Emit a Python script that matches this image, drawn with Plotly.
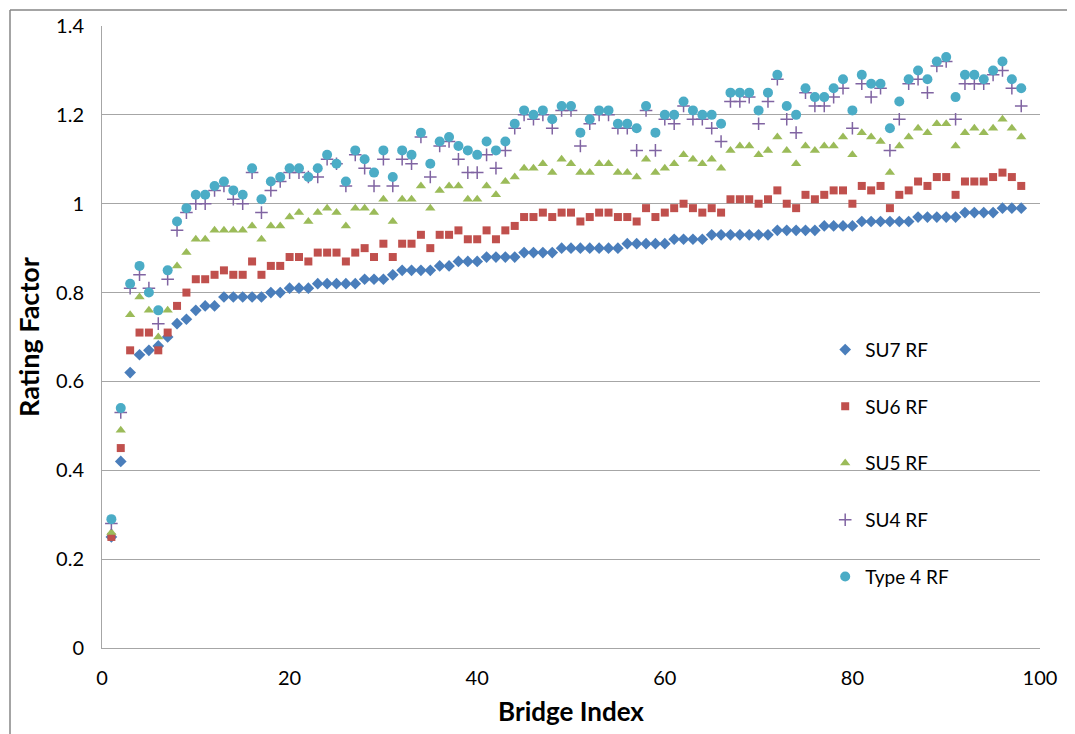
import plotly.graph_objects as go

bridge_index = list(range(1, 99))

su7 = [0.25, 0.42, 0.62, 0.66, 0.67, 0.68, 0.70, 0.73, 0.74, 0.76,
       0.77, 0.77, 0.79, 0.79, 0.79, 0.79, 0.79, 0.80, 0.80, 0.81,
       0.81, 0.81, 0.82, 0.82, 0.82, 0.82, 0.82, 0.83, 0.83, 0.83,
       0.84, 0.85, 0.85, 0.85, 0.85, 0.86, 0.86, 0.87, 0.87, 0.87,
       0.88, 0.88, 0.88, 0.88, 0.89, 0.89, 0.89, 0.89, 0.90, 0.90,
       0.90, 0.90, 0.90, 0.90, 0.90, 0.91, 0.91, 0.91, 0.91, 0.91,
       0.92, 0.92, 0.92, 0.92, 0.93, 0.93, 0.93, 0.93, 0.93, 0.93,
       0.93, 0.94, 0.94, 0.94, 0.94, 0.94, 0.95, 0.95, 0.95, 0.95,
       0.96, 0.96, 0.96, 0.96, 0.96, 0.96, 0.97, 0.97, 0.97, 0.97,
       0.97, 0.98, 0.98, 0.98, 0.98, 0.99, 0.99, 0.99]

su6 = [0.25, 0.45, 0.67, 0.71, 0.71, 0.67, 0.71, 0.77, 0.80, 0.83,
       0.83, 0.84, 0.85, 0.84, 0.84, 0.87, 0.84, 0.86, 0.86, 0.88,
       0.88, 0.87, 0.89, 0.89, 0.89, 0.87, 0.89, 0.90, 0.88, 0.91,
       0.88, 0.91, 0.91, 0.93, 0.90, 0.93, 0.93, 0.94, 0.92, 0.92,
       0.94, 0.92, 0.94, 0.95, 0.97, 0.97, 0.98, 0.97, 0.98, 0.98,
       0.96, 0.97, 0.98, 0.98, 0.97, 0.97, 0.96, 0.99, 0.97, 0.98,
       0.99, 1.00, 0.99, 0.98, 0.99, 0.98, 1.01, 1.01, 1.01, 1.00,
       1.01, 1.03, 1.00, 0.99, 1.02, 1.01, 1.02, 1.03, 1.03, 1.00,
       1.04, 1.03, 1.04, 0.99, 1.02, 1.03, 1.05, 1.04, 1.06, 1.06,
       1.02, 1.05, 1.05, 1.05, 1.06, 1.07, 1.06, 1.04]

su5 = [0.26, 0.49, 0.75, 0.79, 0.76, 0.70, 0.76, 0.86, 0.89, 0.92,
       0.92, 0.94, 0.94, 0.94, 0.94, 0.95, 0.92, 0.95, 0.95, 0.97,
       0.98, 0.96, 0.98, 0.99, 0.98, 0.95, 0.99, 0.99, 0.98, 1.01,
       0.96, 1.01, 1.01, 1.04, 0.99, 1.03, 1.04, 1.04, 1.01, 1.01,
       1.04, 1.02, 1.05, 1.06, 1.08, 1.08, 1.09, 1.07, 1.10, 1.09,
       1.07, 1.07, 1.09, 1.09, 1.07, 1.07, 1.06, 1.10, 1.07, 1.08,
       1.09, 1.11, 1.10, 1.09, 1.10, 1.08, 1.12, 1.13, 1.13, 1.11,
       1.12, 1.15, 1.12, 1.09, 1.13, 1.12, 1.13, 1.13, 1.15, 1.11,
       1.16, 1.15, 1.14, 1.07, 1.13, 1.15, 1.17, 1.16, 1.18, 1.18,
       1.13, 1.16, 1.17, 1.16, 1.17, 1.19, 1.17, 1.15]

su4 = [0.28, 0.53, 0.81, 0.84, 0.81, 0.73, 0.83, 0.94, 0.98, 1.00,
       1.00, 1.03, 1.04, 1.01, 1.00, 1.07, 0.98, 1.03, 1.05, 1.07,
       1.07, 1.06, 1.06, 1.10, 1.09, 1.04, 1.11, 1.08, 1.04, 1.10,
       1.04, 1.10, 1.09, 1.15, 1.06, 1.13, 1.14, 1.10, 1.07, 1.07,
       1.11, 1.08, 1.12, 1.17, 1.20, 1.19, 1.20, 1.17, 1.21, 1.21,
       1.13, 1.18, 1.20, 1.20, 1.17, 1.17, 1.12, 1.21, 1.12, 1.19,
       1.18, 1.22, 1.19, 1.19, 1.17, 1.14, 1.23, 1.23, 1.24, 1.18,
       1.23, 1.28, 1.19, 1.16, 1.25, 1.22, 1.22, 1.24, 1.26, 1.17,
       1.27, 1.24, 1.26, 1.12, 1.19, 1.27, 1.28, 1.25, 1.31, 1.32,
       1.19, 1.27, 1.27, 1.27, 1.29, 1.30, 1.26, 1.22]

type4 = [0.29, 0.54, 0.82, 0.86, 0.80, 0.76, 0.85, 0.96, 0.99, 1.02,
         1.02, 1.04, 1.05, 1.03, 1.02, 1.08, 1.01, 1.05, 1.06, 1.08,
         1.08, 1.06, 1.08, 1.11, 1.09, 1.05, 1.12, 1.10, 1.07, 1.12,
         1.06, 1.12, 1.11, 1.16, 1.09, 1.14, 1.15, 1.13, 1.12, 1.11,
         1.14, 1.12, 1.14, 1.18, 1.21, 1.20, 1.21, 1.19, 1.22, 1.22,
         1.16, 1.19, 1.21, 1.21, 1.18, 1.18, 1.17, 1.22, 1.16, 1.20,
         1.20, 1.23, 1.21, 1.20, 1.20, 1.18, 1.25, 1.25, 1.25, 1.21,
         1.25, 1.29, 1.22, 1.20, 1.26, 1.24, 1.24, 1.26, 1.28, 1.21,
         1.29, 1.27, 1.27, 1.17, 1.23, 1.28, 1.30, 1.28, 1.32, 1.33,
         1.24, 1.29, 1.29, 1.28, 1.30, 1.32, 1.28, 1.26]

series_names = ["SU7 RF", "SU6 RF", "SU5 RF", "SU4 RF", "Type 4 RF"]
series_values = [su7, su6, su5, su4, type4]
colors = ["#4A7EBB", "#C0504D", "#9BBB59", "#8064A2", "#4BACC6"]
symbols = ["diamond", "square", "triangle-up", "cross-thin", "circle"]
sizes = [9, 8, 9, 9, 10]

fig = go.Figure()
for i, (name, vals) in enumerate(zip(series_names, series_values)):
    marker = dict(symbol=symbols[i], size=sizes[i], color=colors[i])
    if symbols[i] == "cross-thin":
        marker["line"] = dict(color=colors[i], width=1.5)
    else:
        marker["line"] = dict(width=0)
    fig.add_trace(go.Scatter(
        x=bridge_index, y=vals, mode="markers", name=name,
        marker=marker, legendgroup=name,
    ))

# the page body adds an 8px offset, so the margins are reduced by 8px
fig.update_layout(
    width=1075, height=734,
    margin=dict(l=94, r=43, t=18, b=94),
    paper_bgcolor="white", plot_bgcolor="white",
    font=dict(family="Lato, 'Open Sans', sans-serif", size=20, color="#000000"),
    showlegend=True,
    legend=dict(
        x=0.771, y=0.297, xanchor="left", yanchor="middle",
        traceorder="grouped", tracegroupgap=29,
        font=dict(size=19), itemsizing="trace",
        bgcolor="rgba(0,0,0,0)",
    ),
    xaxis=dict(
        range=[0, 100], dtick=20, tick0=0,
        showgrid=False, zeroline=False, automargin=False,
        showline=True, linecolor="#A6A6A6", linewidth=1,
        ticks="", ticklabelstandoff=12,
        title=dict(text="<b>Bridge Index</b>", font=dict(size=26), standoff=14),
    ),
    yaxis=dict(
        range=[0, 1.4], dtick=0.2, tick0=0,
        showgrid=True, gridcolor="#A6A6A6", gridwidth=1,
        zeroline=False, automargin=False,
        showline=True, linecolor="#A6A6A6", linewidth=1,
        ticks="", ticklabelstandoff=13,
        title=dict(text="<b>Rating Factor</b>", font=dict(size=27), standoff=8),
    ),
)

# outer chart border (left and top edges visible in the frame)
bx = (2 - 94) / 938
by = (640 - 2) / 622
fig.add_shape(type="line", xref="paper", yref="paper",
              x0=bx, x1=1.2, y0=by, y1=by,
              line=dict(color="#868686", width=1.5))
fig.add_shape(type="line", xref="paper", yref="paper",
              x0=bx, x1=bx, y0=by, y1=-0.3,
              line=dict(color="#868686", width=1.5))

fig.write_html("out.html")
